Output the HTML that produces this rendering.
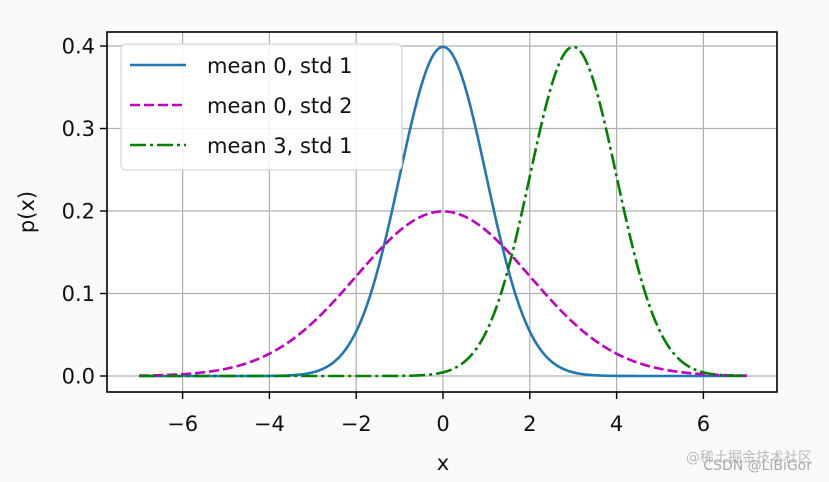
<!DOCTYPE html>
<html><head><meta charset="utf-8"><style>
html,body{margin:0;padding:0;background:#fafafa;}
svg{display:block;font-family:"DejaVu Sans","Liberation Sans",sans-serif;}
</style></head><body>
<svg id="s" width="829" height="482" viewBox="0 0 829 482" xmlns="http://www.w3.org/2000/svg">
<rect x="0" y="0" width="829" height="482" fill="#fafafa"/>
<rect x="107" y="32" width="670" height="360" fill="#fff"/>
<g id="grid" stroke="#b0b0b0" stroke-width="1.2"></g>
<g id="curves" fill="none" stroke-width="2.6"></g>
<rect x="107" y="32" width="670" height="360" fill="none" stroke="#000" stroke-width="1.6"/>
<g id="ticks" stroke="#000" stroke-width="1.4"></g>
<g id="labels" font-size="21" fill="#111"></g>
<text x="443" y="470" font-size="21" text-anchor="middle" fill="#111">x</text>
<text transform="translate(34,212) rotate(-90)" font-size="21" text-anchor="middle" fill="#111">p(x)</text>
<g>
<rect x="121" y="44" width="281" height="126" rx="5" fill="#fff" fill-opacity="0.85" stroke="#d6d6d6" stroke-width="1.2"/>
<line x1="130" y1="65" x2="186" y2="65" stroke="#1f77b4" stroke-width="2.6"/>
<line x1="130" y1="105" x2="186" y2="105" stroke="#bf00bf" stroke-width="2.6" stroke-dasharray="10,4"/>
<line x1="130" y1="145" x2="186" y2="145" stroke="#008000" stroke-width="2.6" stroke-dasharray="16,4,3,4"/>
<text x="207" y="73" font-size="21" fill="#111">mean 0, std 1</text>
<text x="207" y="113" font-size="21" fill="#111">mean 0, std 2</text>
<text x="207" y="153" font-size="21" fill="#111">mean 3, std 1</text>
</g>
<text x="812" y="462" font-size="14" fill="#bbb" text-anchor="end">@稀土掘金技术社区</text>
<text x="812" y="470" font-size="14" fill="#aaa" text-anchor="end">CSDN @LiBiGor</text>
</svg>
<script>
const NS="http://www.w3.org/2000/svg";
const X=v=>443+v*43.4, Y=v=>376-v*825;
function el(p,t,a,txt){const e=document.createElementNS(NS,t);for(const k in a)e.setAttribute(k,a[k]);if(txt!==undefined)e.textContent=txt;document.getElementById(p).appendChild(e);}
for(let t=-6;t<=6;t+=2){el("grid","line",{x1:X(t),x2:X(t),y1:32,y2:392});el("ticks","line",{x1:X(t),x2:X(t),y1:392,y2:399});
el("labels","text",{x:X(t),y:431,"text-anchor":"middle"},(t<0?"\u2212"+(-t):""+t));}
for(let i=0;i<=4;i++){const v=i/10;el("grid","line",{x1:107,x2:777,y1:Y(v),y2:Y(v)});el("ticks","line",{x1:100,x2:107,y1:Y(v),y2:Y(v)});
el("labels","text",{x:95,y:Y(v)+7.5,"text-anchor":"end"},v.toFixed(1));}
function pts(m,s){let a=[];for(let i=0;i<=700;i++){const x=-7+i*0.02;const p=Math.exp(-0.5*((x-m)/s)**2)/(s*Math.sqrt(2*Math.PI));a.push(X(x).toFixed(2)+","+Y(p).toFixed(2));}return a.join(" ");}
el("curves","polyline",{points:pts(0,1),stroke:"#1f77b4"});
el("curves","polyline",{points:pts(0,2),stroke:"#bf00bf","stroke-dasharray":"10,4"});
el("curves","polyline",{points:pts(3,1),stroke:"#008000","stroke-dasharray":"16,4,3,4"});
</script>
</body></html>
